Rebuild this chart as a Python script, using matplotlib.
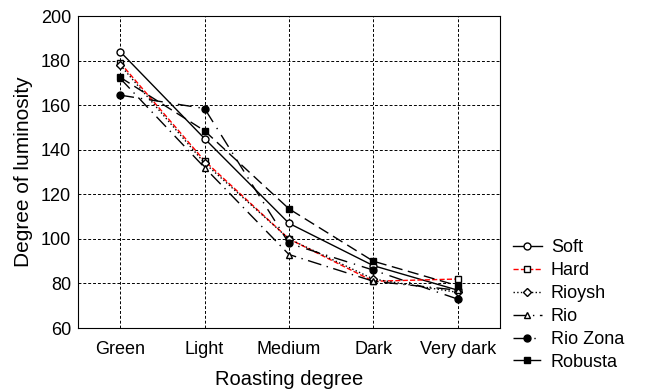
import matplotlib.pyplot as plt
import numpy as np

plt.rcParams['font.family'] = ['Liberation Sans', 'DejaVu Sans']

# Roasting degree categories and luminosity values
categories = ['Green', 'Light', 'Medium', 'Dark', 'Very dark']
soft = [184, 145, 107, 88, 77]
hard = [179, 135, 100, 81, 82]
rioysh = [178, 134, 100, 82, 76]
rio = [172, 132, 93, 81, 77]
rio_zona = [164.5, 158.5, 98, 86, 73]
robusta = [172.5, 148.5, 113.5, 90, 79]

fig, ax = plt.subplots(figsize=(6.45, 3.91), dpi=100)
x = np.arange(len(categories))

ax.plot(x, soft, color='k', linestyle='-', marker='o', mfc='white', ms=5, lw=1, label='Soft')
ax.plot(x, hard, color='red', linestyle='--', marker='s', mfc='white', mec='k', ms=5, lw=1, label='Hard')
ax.plot(x, rioysh, color='k', linestyle=':', marker='D', mfc='white', ms=4.5, lw=1, label='Rioysh')
ax.plot(x, rio, color='k', linestyle=(0, (10, 4, 1, 4)), marker='^', mfc='white', ms=5, lw=1, label='Rio')
ax.plot(x, rio_zona, color='k', linestyle=(0, (10, 5, 1, 5)), marker='o', mfc='k', ms=5, lw=1, label='Rio Zona')
ax.plot(x, robusta, color='k', linestyle=(0, (8, 4)), marker='s', mfc='k', ms=5, lw=1, label='Robusta')

ax.set_xlim(-0.5, 4.5)
ax.set_ylim(60, 200)
ax.set_xticks(x)
ax.set_xticklabels(categories)
ax.set_yticks(np.arange(60, 201, 20))
ax.tick_params(axis='x', length=0, labelsize=13, pad=9)
ax.tick_params(axis='y', length=0, labelsize=13, pad=5)
ax.grid(True, color='k', linestyle=(0, (3, 2)), linewidth=0.7)
ax.set_xlabel('Roasting degree', fontsize=14.5, labelpad=9)
ax.set_ylabel('Degree of luminosity', fontsize=15, labelpad=6)

ax.legend(loc='upper left', bbox_to_anchor=(513 / 645, 1 - 239 / 391),
          bbox_transform=fig.transFigure, frameon=False, fontsize=13,
          borderaxespad=0, borderpad=0, handlelength=1.6, labelspacing=0.33,
          handletextpad=0.5)

fig.subplots_adjust(left=0.121, right=0.775, top=0.959, bottom=0.161)
plt.savefig('out.png', dpi=100)
